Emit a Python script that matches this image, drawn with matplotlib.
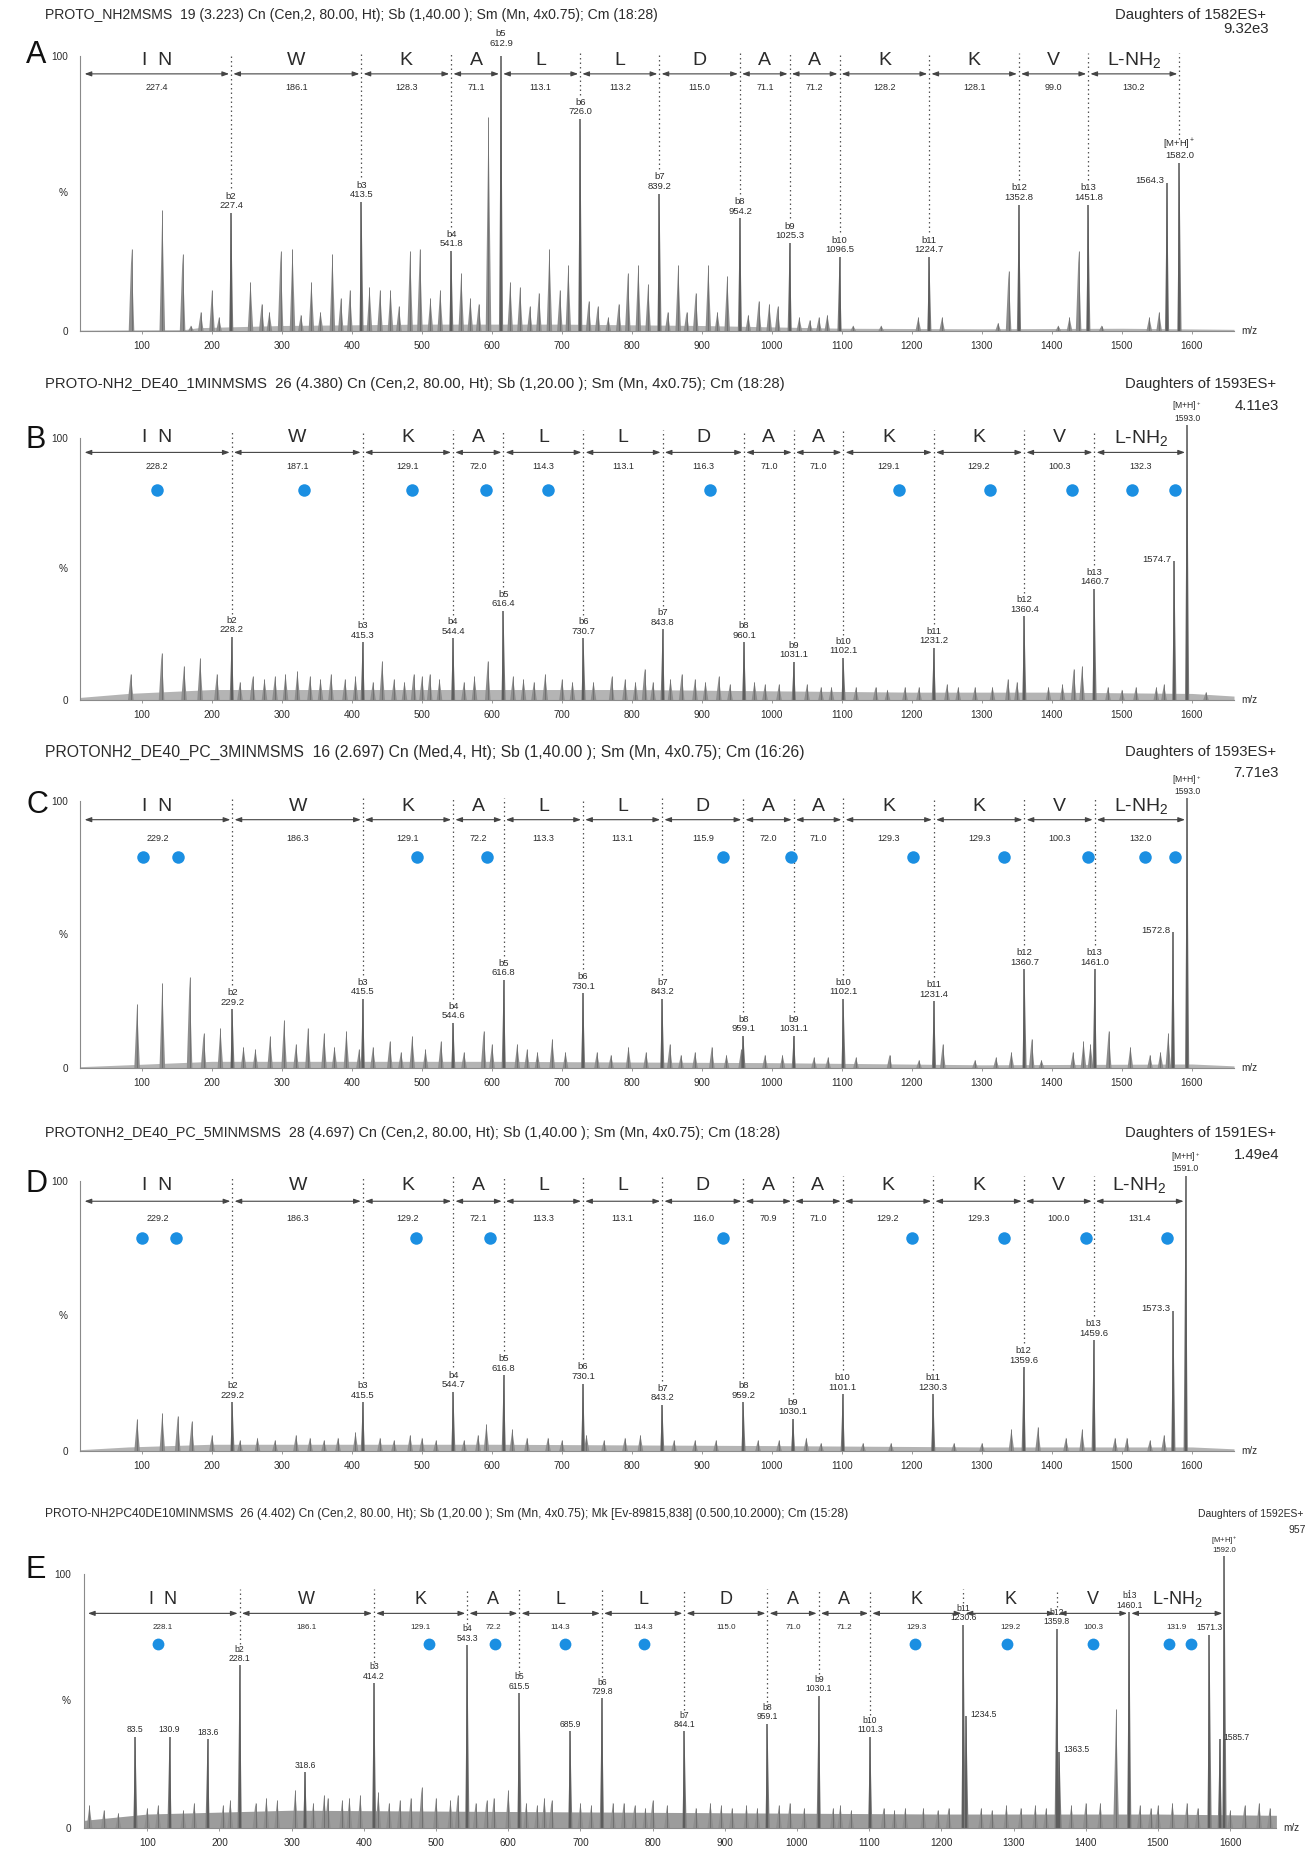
import matplotlib
matplotlib.use("Agg")
import matplotlib.pyplot as plt

plt.rcParams['font.family'] = ['Liberation Sans', 'DejaVu Sans']
plt.rcParams['mathtext.fontset'] = 'custom'
plt.rcParams['mathtext.rm'] = 'Liberation Sans'
plt.rcParams['mathtext.it'] = 'Liberation Sans:italic'
plt.rcParams['mathtext.bf'] = 'Liberation Sans:bold'

W, H = 1314, 1861
INK = '#2b2b2b'
PEAK = '#555555'
BLUE = '#1b8fe2'

SEQ = ['I  N', 'W', 'K', 'A', 'L', 'L', 'D', 'A', 'A', 'K', 'K', 'V', 'L-NH$_2$']
MZ_TICKS = [100, 200, 300, 400, 500, 600, 700, 800, 900, 1000, 1100, 1200, 1300, 1400, 1500, 1600]

# ---------------- panel A ----------------
A_HEAD = "PROTO_NH2MSMS  19 (3.223) Cn (Cen,2, 80.00, Ht); Sb (1,40.00 ); Sm (Mn, 4x0.75); Cm (18:28)"
A_PARENT = "Daughters of 1582ES+"
A_INT = "9.32e3"
A_B_MZ = [227.4, 413.5, 541.8, 612.9, 726.0, 839.2, 954.2, 1025.3, 1096.5, 1224.7, 1352.8, 1451.8]
A_B_PCT = [43, 47, 29, 100, 77, 50, 41, 32, 27, 27, 46, 46]
A_SEG = ['227.4', '186.1', '128.3', '71.1', '113.1', '113.2', '115.0', '71.1', '71.2', '128.2', '128.1', '99.0', '130.2']
A_MH, A_MH_PCT = 1582.0, 61
A_LAB = [(1564.3, 54)]
A_MINOR = [(85, 30), (129, 44), (158, 28), (170, 2), (184, 7), (200, 15), (210, 5), (255, 18), (271, 10),
           (282, 7), (298, 29), (315, 30), (327, 6), (342, 18), (355, 7), (372, 28), (384, 12), (397, 15),
           (425, 16), (440, 15), (455, 15), (467, 9), (483, 29), (497, 30), (512, 12), (526, 15), (556, 21),
           (569, 12), (581, 10), (595, 78), (626, 18), (640, 16), (654, 9), (667, 14), (682, 30), (697, 15),
           (709, 24), (738, 11), (751, 9), (766, 5), (781, 10), (794, 21), (809, 24), (823, 17), (851, 7),
           (866, 24), (878, 7), (891, 14), (909, 24), (922, 7), (936, 20), (966, 6), (981, 11), (996, 10),
           (1008, 9), (1039, 5), (1054, 4), (1067, 5), (1079, 6), (1116, 2), (1156, 2), (1209, 5), (1243, 5),
           (1323, 3), (1338, 22), (1409, 2), (1425, 5), (1438, 29), (1471, 2), (1539, 5), (1553, 7)]
A_NOISE = [(12, 0.3), (160, 0.5), (180, 1.2), (300, 2), (500, 2.5), (700, 2.5), (900, 2), (1100, 1),
           (1300, 0.8), (1500, 1), (1660, 0.6)]
A_DOTS = []

# ---------------- panel B ----------------
B_HEAD = "PROTO-NH2_DE40_1MINMSMS  26 (4.380) Cn (Cen,2, 80.00, Ht); Sb (1,20.00 ); Sm (Mn, 4x0.75); Cm (18:28)"
B_PARENT = "Daughters of 1593ES+"
B_INT = "4.11e3"
B_B_MZ = [228.2, 415.3, 544.4, 616.4, 730.7, 843.8, 960.1, 1031.1, 1102.1, 1231.2, 1360.4, 1460.7]
B_B_PCT = [24, 22, 23.5, 34, 23.5, 27, 22, 14.5, 16, 20, 32, 42.5]
B_SEG = ['228.2', '187.1', '129.1', '72.0', '114.3', '113.1', '116.3', '71.0', '71.0', '129.1', '129.2', '100.3', '132.3']
B_MH, B_MH_PCT = 1593.0, 105
B_LAB = [(1574.7, 53)]
B_MINOR = [(84, 10), (128, 18), (160, 13), (183, 16), (207, 10), (240, 7), (258, 9), (275, 8), (290, 9),
           (305, 10), (322, 11), (340, 9), (355, 8), (370, 10), (390, 8), (405, 9), (430, 7), (443, 15),
           (460, 8), (475, 7), (488, 10), (500, 9), (511, 10), (525, 8), (560, 7), (575, 9), (594, 15),
           (630, 9), (645, 8), (660, 7), (676, 10), (700, 8), (715, 7), (745, 7), (771, 9), (790, 8),
           (805, 7), (818, 12), (830, 7), (855, 8), (871, 10), (890, 8), (905, 7), (924, 9), (940, 6),
           (975, 7), (990, 6), (1010, 6), (1050, 6), (1070, 5), (1085, 5), (1120, 5), (1148, 5), (1165, 4),
           (1190, 5), (1210, 5), (1250, 6), (1266, 5), (1290, 5), (1315, 5), (1337, 8), (1350, 7), (1395, 5),
           (1415, 6), (1431, 12), (1443, 13), (1480, 5), (1500, 4), (1520, 5), (1549, 5), (1560, 6), (1620, 3)]
B_NOISE = [(12, 1), (80, 2.5), (200, 4), (400, 4), (600, 4), (800, 4), (1000, 3.5), (1200, 3),
           (1400, 3), (1600, 2.5), (1660, 1.5)]
B_DOTS = [122, 331, 486, 592, 680, 912, 1181, 1312, 1429, 1515, 1576]

# ---------------- panel C ----------------
C_HEAD = "PROTONH2_DE40_PC_3MINMSMS  16 (2.697) Cn (Med,4, Ht); Sb (1,40.00 ); Sm (Mn, 4x0.75); Cm (16:26)"
C_PARENT = "Daughters of 1593ES+"
C_INT = "7.71e3"
C_B_MZ = [229.2, 415.5, 544.6, 616.8, 730.1, 843.2, 959.1, 1031.1, 1102.1, 1231.4, 1360.7, 1461.0]
C_B_PCT = [22, 26, 17, 33, 28, 26, 12, 12, 26, 25, 37, 37]
C_SEG = ['229.2', '186.3', '129.1', '72.2', '113.3', '113.1', '115.9', '72.0', '71.0', '129.3', '129.3', '100.3', '132.0']
C_MH, C_MH_PCT = 1593.0, 101
C_LAB = [(1572.8, 51)]
C_MINOR = [(93, 24), (129, 32), (168, 34), (188, 13), (212, 15), (245, 8), (262, 7), (283, 12), (303, 18),
           (320, 9), (337, 15), (360, 13), (375, 8), (392, 14), (410, 7), (430, 8), (454, 10), (470, 6),
           (486, 12), (505, 7), (527, 10), (560, 6), (588, 14), (600, 9), (636, 9), (650, 7), (665, 6),
           (686, 11), (705, 6), (750, 6), (770, 5), (795, 8), (820, 6), (854, 9), (870, 5), (890, 6),
           (914, 8), (935, 5), (956, 7), (990, 5), (1015, 5), (1060, 4), (1080, 4), (1120, 4), (1168, 5),
           (1210, 3), (1244, 9), (1290, 3), (1320, 4), (1342, 6), (1371, 11), (1385, 3), (1430, 6),
           (1445, 10), (1455, 9), (1481, 14), (1512, 8), (1540, 5), (1555, 6), (1566, 13)]
C_NOISE = [(12, 0.5), (80, 1.2), (200, 2.5), (600, 2.5), (1000, 2), (1300, 1.2), (1600, 1.5), (1660, 0.8)]
C_DOTS = [102, 151, 493, 593, 930, 1027, 1202, 1332, 1451, 1533, 1576]

# ---------------- panel D ----------------
D_HEAD = "PROTONH2_DE40_PC_5MINMSMS  28 (4.697) Cn (Cen,2, 80.00, Ht); Sb (1,40.00 ); Sm (Mn, 4x0.75); Cm (18:28)"
D_PARENT = "Daughters of 1591ES+"
D_INT = "1.49e4"
D_B_MZ = [229.2, 415.5, 544.7, 616.8, 730.1, 843.2, 959.2, 1030.1, 1101.1, 1230.3, 1359.6, 1459.6]
D_B_PCT = [18, 18, 22, 28, 25, 17, 18, 12, 21, 21, 31, 41]
D_SEG = ['229.2', '186.3', '129.2', '72.1', '113.3', '113.1', '116.0', '70.9', '71.0', '129.2', '129.3', '100.0', '131.4']
D_MH, D_MH_PCT = 1591.0, 102
D_LAB = [(1573.3, 52)]
D_MINOR = [(93, 12), (129, 14), (151, 13), (171, 11), (200, 6), (240, 4), (265, 5), (290, 4), (320, 6),
           (340, 5), (360, 4), (380, 5), (405, 7), (440, 5), (460, 4), (483, 6), (500, 5), (520, 4),
           (560, 4), (580, 6), (592, 10), (629, 8), (650, 5), (680, 5), (700, 4), (735, 6), (760, 4),
           (790, 5), (812, 6), (860, 4), (890, 4), (920, 4), (980, 4), (1010, 4), (1049, 5), (1070, 3),
           (1130, 3), (1170, 3), (1260, 3), (1300, 3), (1342, 8), (1380, 9), (1420, 5), (1443, 8),
           (1490, 5), (1507, 5), (1540, 4), (1560, 6)]
D_NOISE = [(12, 0.5), (80, 1.5), (200, 2.5), (600, 2.5), (1000, 2), (1300, 1.5), (1600, 1.5), (1660, 0.8)]
D_DOTS = [100, 149, 492, 597, 930, 1200, 1331, 1449, 1564]

# ---------------- panel E ----------------
E_HEAD = ("PROTO-NH2PC40DE10MINMSMS  26 (4.402) Cn (Cen,2, 80.00, Ht); Sb (1,20.00 ); Sm (Mn, 4x0.75); "
          "Mk [Ev-89815,838] (0.500,10.2000); Cm (15:28)")
E_PARENT = "Daughters of 1592ES+"
E_INT = "957"
E_B_MZ = [228.1, 414.2, 543.3, 615.5, 729.8, 844.1, 959.1, 1030.1, 1101.3, 1230.6, 1359.8, 1460.1]
E_B_PCT = [64, 57, 72, 53, 51, 38, 41, 52, 36, 80, 78.5, 85]
E_SEG = ['228.1', '186.1', '129.1', '72.2', '114.3', '114.3', '115.0', '71.0', '71.2', '129.3', '129.2', '100.3', '131.9']
E_MH, E_MH_PCT = 1592.0, 107
E_LAB = [(83.5, 36), (130.9, 36), (183.6, 35), (318.6, 22), (685.9, 38), (1234.5, 44), (1363.5, 30),
         (1571.3, 76), (1585.7, 35)]
E_MINOR = [(20, 9), (40, 7), (60, 6), (100, 8), (115, 9), (150, 7), (165, 10), (205, 9), (215, 11),
           (250, 10), (265, 12), (280, 11), (305, 15), (330, 10), (345, 13), (350, 12), (370, 11), (380, 12),
           (395, 13), (420, 14), (435, 10), (450, 11), (465, 12), (480, 16), (500, 12), (520, 11), (530, 13),
           (555, 10), (570, 11), (580, 12), (600, 15), (625, 10), (640, 9), (650, 12), (660, 11), (700, 10),
           (715, 9), (745, 10), (760, 10), (775, 9), (790, 8), (800, 11), (820, 9), (860, 8), (880, 10),
           (895, 9), (910, 8), (930, 9), (945, 8), (975, 9), (990, 10), (1010, 8), (1050, 8), (1060, 9),
           (1075, 7), (1120, 8), (1135, 7), (1150, 8), (1175, 8), (1195, 7), (1210, 8), (1255, 8), (1270, 7),
           (1290, 9), (1310, 8), (1330, 9), (1345, 8), (1380, 9), (1400, 10), (1420, 10), (1442, 47),
           (1475, 9), (1490, 8), (1500, 9), (1520, 10), (1540, 10), (1555, 8), (1600, 7), (1620, 9),
           (1640, 10), (1655, 8)]
E_NOISE = [(12, 3), (100, 5.5), (300, 7), (600, 6.5), (900, 6), (1200, 5.5), (1500, 5.5), (1664, 5)]
E_DOTS = [115, 490, 582, 679, 788, 1163, 1291, 1410, 1515, 1546]

# ---------------- layout (pixels of the 1314x1861 canvas, % of axis) ----------------
BASE = dict(xlim=(12, 1660), seq_start=15, fs_seq=14, fs_seg=6.5, fs_lab=6.8, fs_tick=7.2,
            ms=9, lab_h=9, head_x=45, big_x=26, top_lab=103, noise_col='#b4b4b4')
LAY_A = dict(BASE, rect=(80.4, 56, 1153.6, 275), letter_y=98.5, arrow_y=93.5, seg_y=88.5, dot_y=None,
             dl_top=101, head_y=15, head_w=612, par_x=1266, par_w=150, int_y=29, big_y=55,
             lab_ha=['r'])
LAY_B = dict(BASE, rect=(80.4, 438, 1153.6, 262), letter_y=100, arrow_y=94.5, seg_y=89, dot_y=80,
             dl_top=103, head_y=384, head_w=738, par_x=1276, par_w=150, int_y=406, big_y=440,
             lab_ha=['r'])
LAY_C = dict(BASE, rect=(80.4, 801, 1153.6, 267), letter_y=98, arrow_y=93, seg_y=86, dot_y=79,
             dl_top=101, head_y=752, head_w=760, par_x=1276, par_w=150, int_y=773, big_y=805,
             lab_ha=['r'])
LAY_D = dict(BASE, rect=(80.4, 1181, 1153.6, 270), letter_y=98.5, arrow_y=92.5, seg_y=86, dot_y=79,
             dl_top=102, head_y=1133, head_w=735, par_x=1276, par_w=150, int_y=1155, big_y=1184,
             lab_ha=['r'])
LAY_E = dict(BASE, rect=(83.7, 1574, 1192.7, 254), xlim=(12, 1664), letter_y=90, arrow_y=84.5, seg_y=79,
             dot_y=72.5, dl_top=94, head_y=1514, head_w=800, par_x=1303, par_w=105, int_y=1530,
             big_y=1570, fs_seq=13, fs_seg=5.8, fs_lab=6.2, ms=8.5, lab_h=8.5, noise_col='#9c9c9c',
             lab_ha=['c', 'c', 'c', 'c', 'c', 'l', 'l', 'c', 'l'])

fig = plt.figure(figsize=(W / 100, H / 100), dpi=100)
fig.patch.set_facecolor('white')
renderer = fig.canvas.get_renderer()


def fit_width(t, px):
    w = t.get_window_extent(renderer).width
    t.set_fontsize(t.get_fontsize() * px / w)


def draw_panel(key, head, parent, inten, bmz, bpct, seg, mh, mhpct, lab, minor, noise, dots, lay):
    x0, top, w, h = lay['rect']
    ax = fig.add_axes([x0 / W, 1 - (top + h) / H, w / W, h / H])
    ax.set_xlim(lay['xlim'])
    ax.set_ylim(0, 100)
    ax.patch.set_visible(False)
    for s in ('top', 'right'):
        ax.spines[s].set_visible(False)
    for s in ('left', 'bottom'):
        ax.spines[s].set_color('#8a8a8a')
        ax.spines[s].set_linewidth(0.8)
    ax.set_xticks(MZ_TICKS)
    ax.set_xticklabels([str(t) for t in MZ_TICKS])
    ax.tick_params(axis='x', length=2.5, width=0.6, color='#8a8a8a', labelsize=lay['fs_tick'],
                   labelcolor=INK, pad=5)
    ax.set_yticks([0, 100])
    ax.set_yticklabels(['0', '100'])
    ax.tick_params(axis='y', length=0, pad=9, labelsize=lay['fs_tick'], labelcolor=INK)
    yt = ax.get_yaxis_transform()
    ax.text(-0.011, 50, '%', transform=yt, ha='right', va='center', fontsize=lay['fs_tick'], color=INK)
    ax.text(1.006, 0, 'm/z', transform=yt, ha='left', va='center', fontsize=lay['fs_tick'], color=INK)

    # spectrum
    ax.fill_between([p[0] for p in noise], 0, [p[1] for p in noise], color=lay['noise_col'], lw=0)
    for m, v in minor:
        ax.fill([m - 4, m, m + 4], [0, v, 0], color='#8e8e8e', lw=0)
        ax.vlines(m, 0, v, color='#6c6c6c', lw=0.6)
    for m, v in list(zip(bmz, bpct)) + lab + [(mh, mhpct)]:
        ax.fill([m - 3, m, m + 3], [0, v, 0], color='#7a7a7a', lw=0, clip_on=False)
        ax.vlines(m, 0, v, color=PEAK, lw=1.1, clip_on=False)

    dotted = dict(ls=(0, (1.2, 2.4)), lw=0.9, color='#555555', clip_on=False)
    for i, (m, v) in enumerate(zip(bmz, bpct)):
        if v < 95:
            ax.text(m, v + 1, f'b{i + 2}\n{m:.1f}', ha='center', va='bottom', fontsize=lay['fs_lab'],
                    color=INK, linespacing=1.05)
            ax.plot([m, m], [v + lay['lab_h'], lay['dl_top']], **dotted)
        else:
            ax.text(m, lay['top_lab'], f'b{i + 2}\n{m:.1f}', ha='center', va='bottom',
                    fontsize=lay['fs_lab'], color=INK, linespacing=1.05)
    if mhpct < 95:
        ax.text(mh, mhpct + 1, f'[M+H]$^+$\n{mh:.1f}', ha='center', va='bottom', fontsize=lay['fs_lab'],
                color=INK, linespacing=1.05)
        ax.plot([mh, mh], [mhpct + lay['lab_h'], lay['dl_top']], **dotted)
    else:
        ax.text(mh, mhpct + 0.8, f'[M+H]$^+$\n{mh:.1f}', ha='center', va='bottom',
                fontsize=lay['fs_lab'] - 0.6, color=INK, linespacing=1.05)
    for (m, v), a in zip(lab, lay['lab_ha']):
        if a == 'c':
            ax.text(m, v + 1, f'{m:.1f}', ha='center', va='bottom', fontsize=lay['fs_lab'], color=INK)
        elif a == 'r':
            ax.text(m - 4, v - 1, f'{m:.1f}', ha='right', va='bottom', fontsize=lay['fs_lab'], color=INK)
        else:
            ax.text(m + 5, v - 1, f'{m:.1f}', ha='left', va='bottom', fontsize=lay['fs_lab'], color=INK)

    # sequence ladder
    bounds = [lay['seq_start']] + bmz + [mh]
    for i, aa in enumerate(SEQ):
        a, b = bounds[i], bounds[i + 1]
        c = (a + b) / 2
        ax.text(c, lay['letter_y'], aa, ha='center', va='center', fontsize=lay['fs_seq'], color=INK)
        ax.annotate('', xy=(b, lay['arrow_y']), xytext=(a, lay['arrow_y']), annotation_clip=False,
                    arrowprops=dict(arrowstyle='<|-|>,head_length=0.5,head_width=0.18', lw=0.8,
                                    color='#444444', shrinkA=1.5, shrinkB=1.5, mutation_scale=8))
        ax.text(c, lay['seg_y'], seg[i], ha='center', va='center', fontsize=lay['fs_seg'], color=INK)
    if dots:
        ax.plot(dots, [lay['dot_y']] * len(dots), 'o', ms=lay['ms'], color=BLUE, mec='none', clip_on=False)

    # header texts
    fig.text(lay['big_x'] / W, 1 - lay['big_y'] / H, key, fontsize=22, ha='left', va='center', color='#111111')
    t = fig.text(lay['head_x'] / W, 1 - lay['head_y'] / H, head, fontsize=7.5, ha='left', va='center', color=INK)
    fit_width(t, lay['head_w'])
    p = fig.text(lay['par_x'] / W, 1 - lay['head_y'] / H, parent, fontsize=7.5, ha='right', va='center', color=INK)
    fit_width(p, lay['par_w'])
    fig.text((lay['par_x'] + 3) / W, 1 - lay['int_y'] / H, inten, fontsize=p.get_fontsize(), ha='right',
             va='center', color=INK)


draw_panel('A', A_HEAD, A_PARENT, A_INT, A_B_MZ, A_B_PCT, A_SEG, A_MH, A_MH_PCT, A_LAB, A_MINOR, A_NOISE, A_DOTS, LAY_A)
draw_panel('B', B_HEAD, B_PARENT, B_INT, B_B_MZ, B_B_PCT, B_SEG, B_MH, B_MH_PCT, B_LAB, B_MINOR, B_NOISE, B_DOTS, LAY_B)
draw_panel('C', C_HEAD, C_PARENT, C_INT, C_B_MZ, C_B_PCT, C_SEG, C_MH, C_MH_PCT, C_LAB, C_MINOR, C_NOISE, C_DOTS, LAY_C)
draw_panel('D', D_HEAD, D_PARENT, D_INT, D_B_MZ, D_B_PCT, D_SEG, D_MH, D_MH_PCT, D_LAB, D_MINOR, D_NOISE, D_DOTS, LAY_D)
draw_panel('E', E_HEAD, E_PARENT, E_INT, E_B_MZ, E_B_PCT, E_SEG, E_MH, E_MH_PCT, E_LAB, E_MINOR, E_NOISE, E_DOTS, LAY_E)

fig.savefig('out.png', dpi=100, facecolor='white')
